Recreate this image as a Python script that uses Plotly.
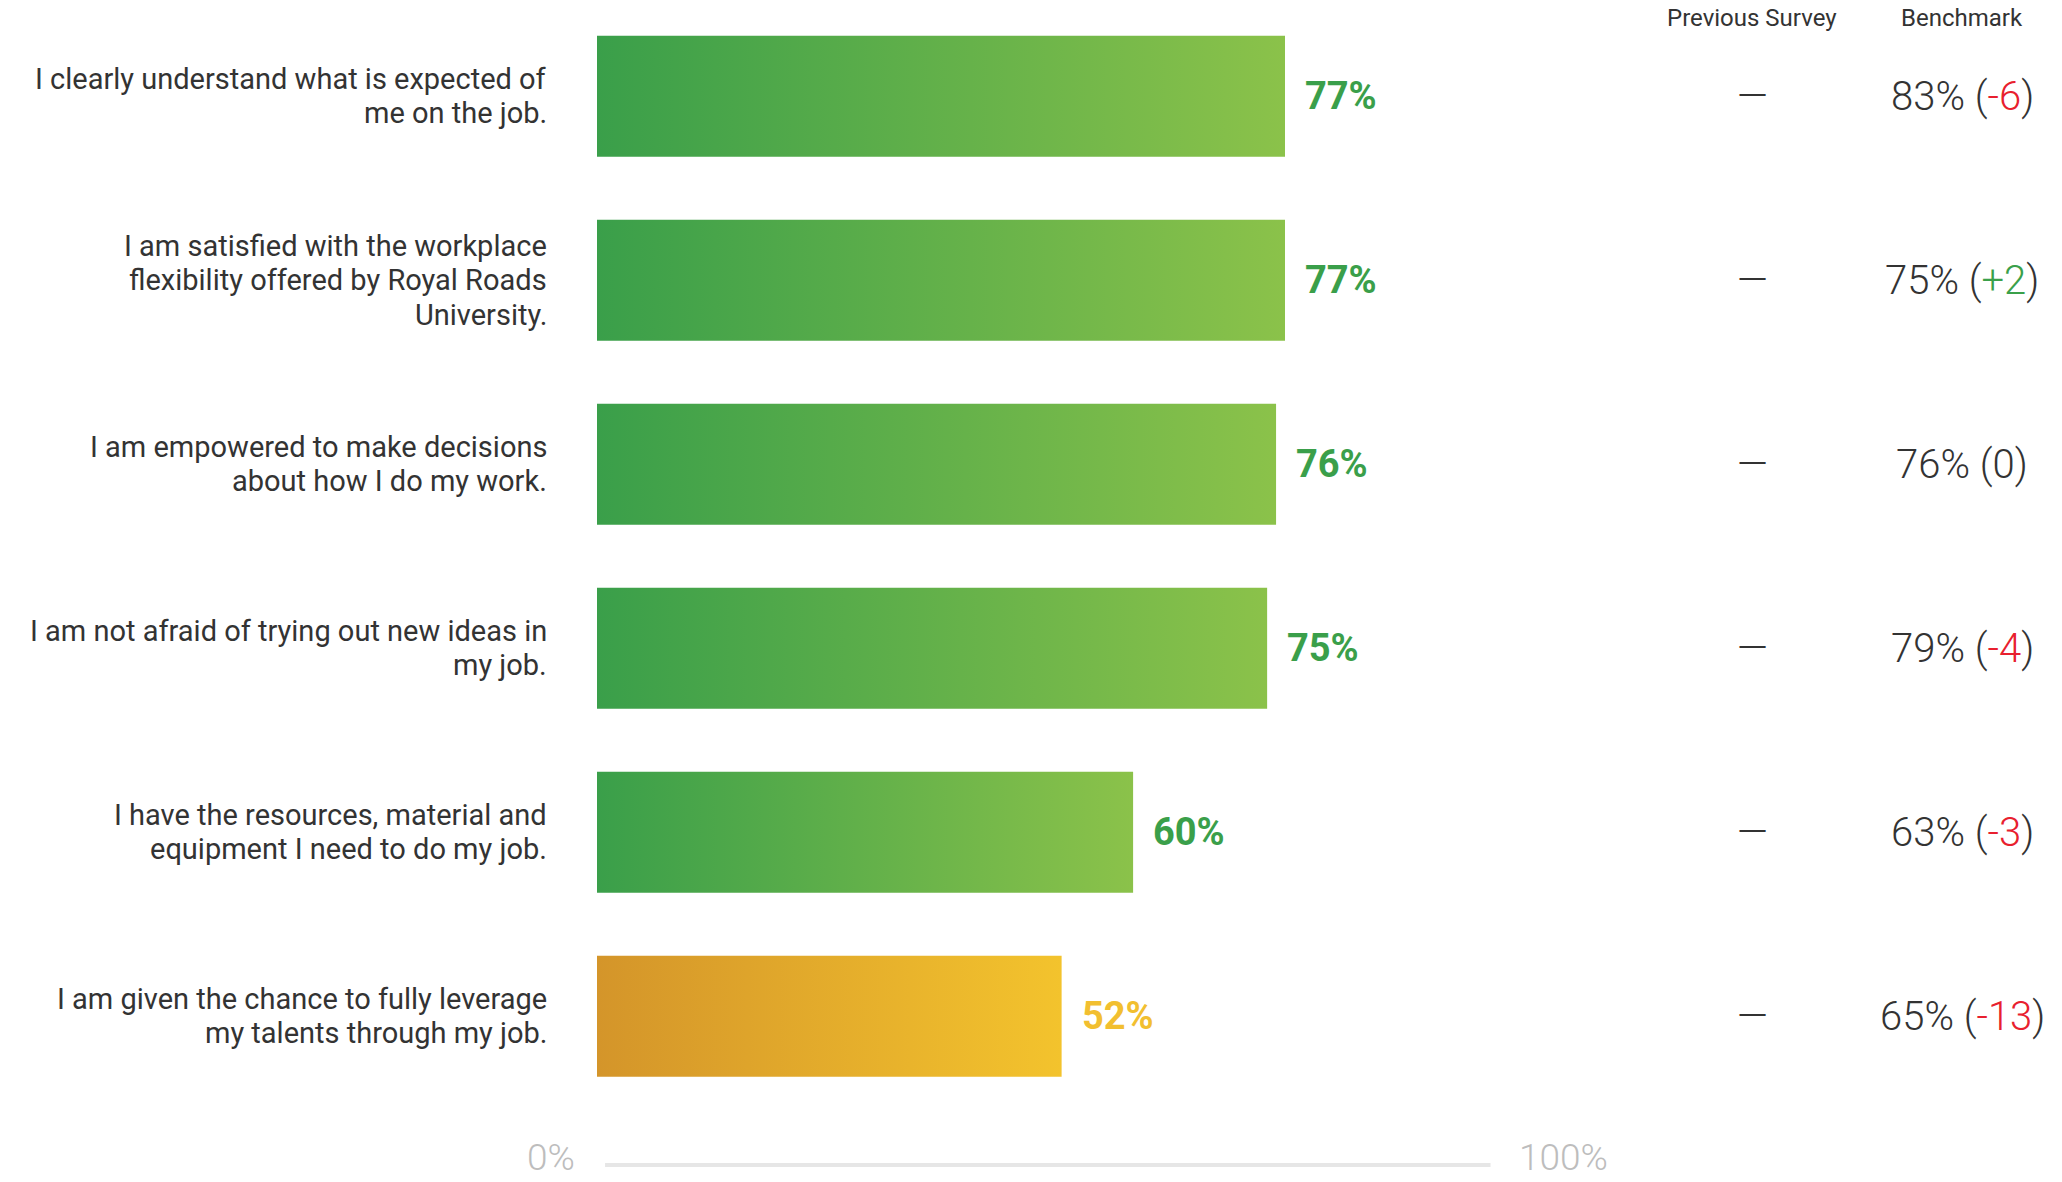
import plotly.graph_objects as go

# Survey statements (top to bottom) and their favourable scores
statements = [
    "I clearly understand what is expected of<br>me on the job.",
    "I am satisfied with the workplace<br>flexibility offered by Royal Roads<br>University.",
    "I am empowered to make decisions<br>about how I do my work.",
    "I am not afraid of trying out new ideas in<br>my job.",
    "I have the resources, material and<br>equipment I need to do my job.",
    "I am given the chance to fully leverage<br>my talents through my job.",
]
scores = [77, 77, 76, 75, 60, 52]
previous_survey = [None, None, None, None, None, None]
benchmark = [83, 75, 76, 79, 63, 65]
axis_ticks = ["0%", "100%"]

# Styling
W, H = 2062, 1182
GREEN = ("#3a9f4a", "#8bc24a")
AMBER = ("#d4952a", "#f3c32d")
GREEN_TEXT = "#3a9f4a"
AMBER_TEXT = "#f2bf30"
DARK = "#333333"
RED = "#e8202e"
POS = "#3aa04a"
CUTOFF = 55          # scores below this use the amber palette
BAR_HALF = 0.329     # half of the bar thickness in category units
LABEL_SIZE = 29      # statement font size
LINE_PX = 34.2       # line spacing of the statement text

FONT = "Roboto"

fig = go.Figure()

for i, v in enumerate(scores):
    c0, c1 = GREEN if v >= CUTOFF else AMBER
    fig.add_trace(go.Scatter(
        x=[0, v, v, 0, 0],
        y=[i - BAR_HALF, i - BAR_HALF, i + BAR_HALF, i + BAR_HALF, i - BAR_HALF],
        mode="lines",
        fill="toself",
        fillgradient=dict(type="horizontal", colorscale=[[0, c0], [1, c1]]),
        line=dict(width=0, color=c1),
        hoverinfo="skip",
        showlegend=False,
    ))

annotations = []

for i, (label, v, prev, b) in enumerate(zip(statements, scores, previous_survey, benchmark)):
    # statement text, right aligned left of the bars; one box per line
    lines = label.split("<br>")
    for j, line in enumerate(lines):
        offset = (j - (len(lines) - 1) / 2) * LINE_PX
        annotations.append(dict(
            x=549 / W, xref="paper", y=i, yref="y", yshift=-offset,
            text=line, showarrow=False, xanchor="right", yanchor="middle", align="right",
            font=dict(family=FONT, size=LABEL_SIZE, color=DARK),
        ))
    # score label at the end of the bar
    annotations.append(dict(
        x=v, xref="x", y=i, yref="y", xshift=18,
        text=f"{v}%", showarrow=False, xanchor="left", yanchor="middle",
        font=dict(family=FONT, size=38, color=GREEN_TEXT if v >= CUTOFF else AMBER_TEXT, weight=700),
    ))
    # previous survey column
    annotations.append(dict(
        x=1752 / W, xref="paper", y=i, yref="y",
        text="—" if prev is None else f"{prev}%", showarrow=False,
        xanchor="center", yanchor="middle",
        font=dict(family=FONT, size=40, color=DARK, weight=300),
    ))
    # benchmark column with the difference
    d = v - b
    if d > 0:
        diff = f"<span style='color:{POS}'>+{d}</span>"
    elif d < 0:
        diff = f"<span style='color:{RED}'>{d}</span>"
    else:
        diff = "0"
    annotations.append(dict(
        x=1962 / W, xref="paper", y=i, yref="y",
        text=f"{b}% ({diff})", showarrow=False, xanchor="center", yanchor="middle",
        font=dict(family=FONT, size=40, color=DARK, weight=300),
    ))

# column headers
for txt, px in (("Previous Survey", 1752), ("Benchmark", 1962)):
    annotations.append(dict(
        x=px / W, xref="paper", y=1 - 18 / H, yref="paper",
        text=txt, showarrow=False, xanchor="center", yanchor="middle",
        font=dict(family=FONT, size=24, color=DARK),
    ))

# scale labels at both ends of the baseline
axis_y = 1 - 1165 / H
label_bottom = 1 - 1181 / H
annotations.append(dict(
    x=0, xref="x", y=label_bottom, yref="paper", xshift=-20,
    text=axis_ticks[0], showarrow=False, xanchor="right", yanchor="bottom",
    font=dict(family=FONT, size=37, color="#bdbdbd", weight=300),
))
annotations.append(dict(
    x=100, xref="x", y=label_bottom, yref="paper", xshift=26,
    text=axis_ticks[1], showarrow=False, xanchor="left", yanchor="bottom",
    font=dict(family=FONT, size=37, color="#bdbdbd", weight=300),
))

row_px = 184.0
first_px = 96.3
fig.update_layout(
    width=W, height=H,
    margin=dict(l=0, r=0, t=0, b=0),
    paper_bgcolor="white", plot_bgcolor="white",
    xaxis=dict(domain=[597 / W, 1490.5 / W], range=[0, 100], visible=False, fixedrange=True),
    yaxis=dict(range=[(H - first_px) / row_px, -first_px / row_px], visible=False, fixedrange=True),
    annotations=annotations,
    shapes=[dict(type="line", xref="x", yref="paper", x0=0.9, x1=100.5, y0=axis_y, y1=axis_y,
                 line=dict(color="#e6e6e6", width=4))],
    showlegend=False,
)

fig.write_html("out.html")
